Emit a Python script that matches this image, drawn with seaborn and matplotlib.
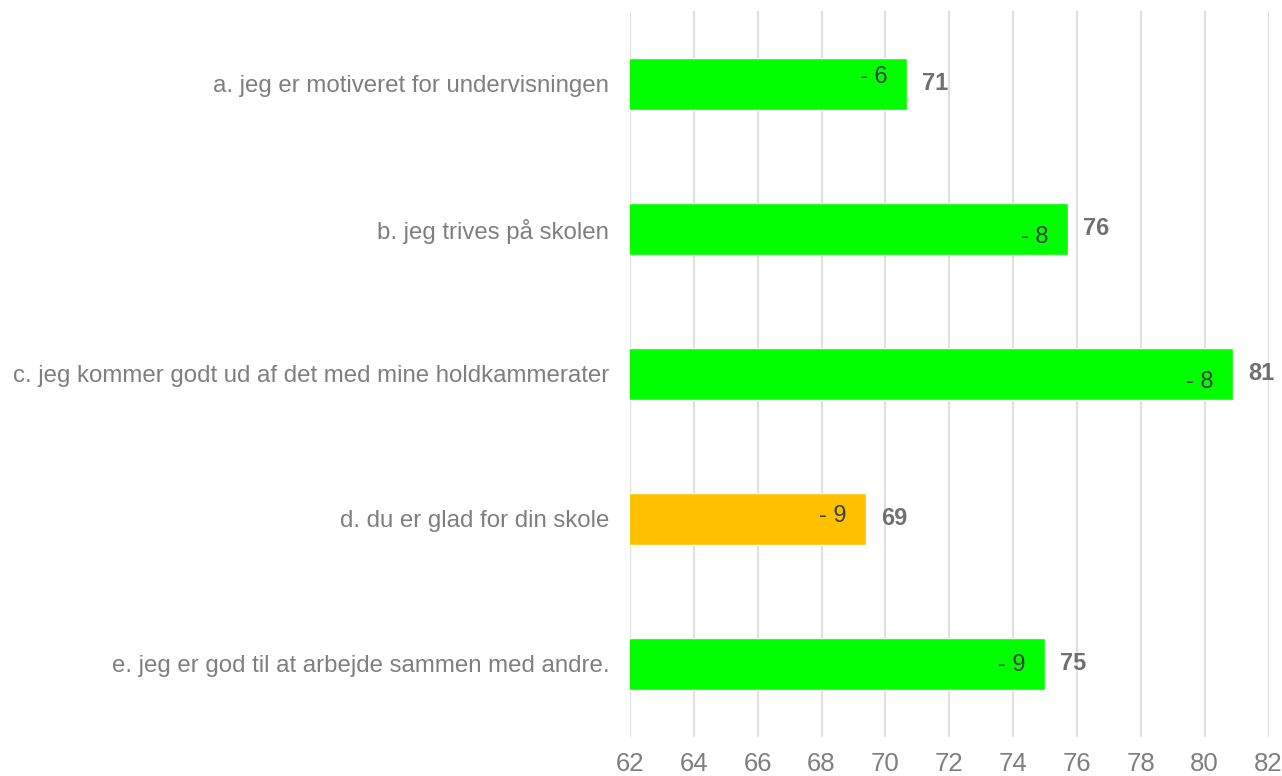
import matplotlib
matplotlib.use("Agg")
import matplotlib.pyplot as plt
import seaborn as sns
import pandas as pd

categories = [
    "a. jeg er motiveret for undervisningen",
    "b. jeg trives på skolen",
    "c. jeg kommer godt ud af det med mine holdkammerater",
    "d. du er glad for din skole",
    "e. jeg er god til at arbejde sammen med andre.",
]
values = [70.68, 75.72, 80.88, 69.40, 75.0]
changes = ["- 6", "- 8", "- 8", "- 9", "- 9"]
bar_colors = ["#00FF00", "#00FF00", "#00FF00", "#FFC000", "#00FF00"]

# small vertical nudges of the inner labels (points), as in the original
inner_dy = [5, -6, -6, 2, -1]

df = pd.DataFrame({"cat": categories, "val": values})

sns.set_style("white")
plt.rcParams["font.family"] = ["Liberation Sans", "DejaVu Sans"]

fig = plt.figure(figsize=(12.82, 7.76), dpi=100)
ax = fig.add_axes([0.4914, 0.0509, 0.4981, 0.9343])

sns.barplot(data=df, x="val", y="cat", hue="cat", palette=bar_colors,
            orient="h", width=0.36, legend=False, ax=ax, saturation=1)

ax.set_xlim(62, 82)
ax.set_xticks(range(62, 83, 2))
ax.set_ylim(4.5, -0.5)
ax.set_xlabel("")
ax.set_ylabel("")
ax.grid(axis="x", color="#E0E0E0", linewidth=1.6)
ax.set_axisbelow(True)
for s in ax.spines.values():
    s.set_visible(False)
ax.tick_params(axis="both", length=0)
ax.tick_params(axis="x", labelsize=18.5, labelcolor="#7F7F7F", pad=11)
ax.tick_params(axis="y", labelsize=17.3, labelcolor="#7F7F7F", pad=15)

for i, (v, c) in enumerate(zip(values, changes)):
    ax.annotate(f"{round(v)}", (v, i), xytext=(11, 0), textcoords="offset points",
                ha="left", va="center", fontsize=17, fontweight="bold", color="#707070")
    ax.annotate(c, (v, i), xytext=(-14, inner_dy[i]), textcoords="offset points",
                ha="right", va="center", fontsize=17, color="#404040")

fig.savefig("out.png", dpi=100)
